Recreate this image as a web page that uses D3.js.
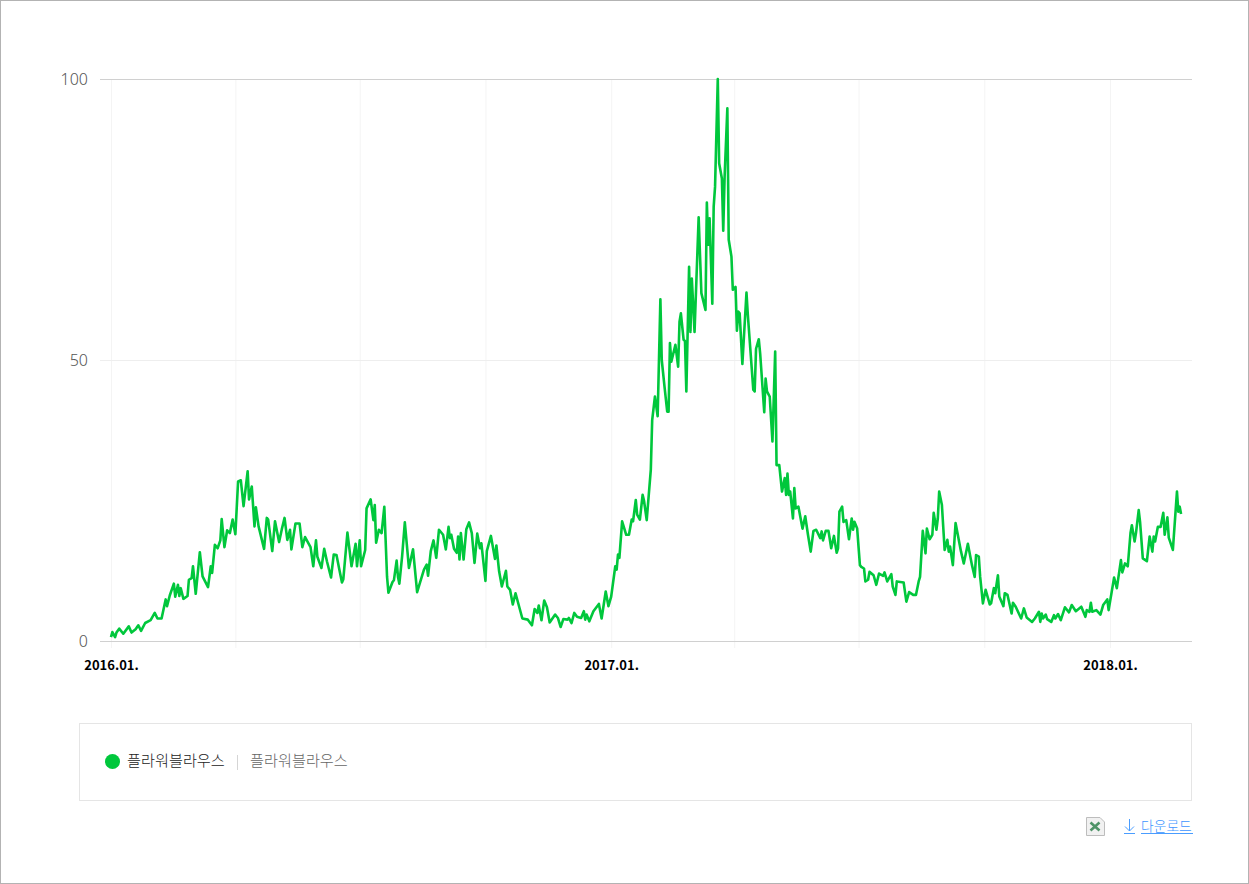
<!DOCTYPE html>
<html lang="ko">
<head>
<meta charset="utf-8">
<title>플라워블라우스</title>
<script src="https://cdn.jsdelivr.net/npm/d3@7/dist/d3.min.js"></script>
<style>
html,body{margin:0;padding:0;background:#fff;overflow:hidden}
svg{display:block}
text{font-family:"Noto Sans CJK KR","Noto Sans",sans-serif}
</style>
</head>
<body>
<svg id="c" width="1249" height="884"></svg>
<script>
const seriesName = "플라워블라우스";
const startDate = "2016-01-01";
const yTicks = [0, 50, 100];
const gridMonths = ["2016-01-01","2016-04-01","2016-07-01","2016-10-01","2017-01-01","2017-04-01","2017-07-01","2017-10-01","2018-01-01"];
const labelMonths = ["2016-01-01","2017-01-01","2018-01-01"];
const downloadLabel = "다운로드";
// day offset from startDate, and search index (ten per line, lines correspond)
const days = [
0,1,3,4,6,9,13,15,18,20,
22,25,29,32,34,37,40,41,43,46,
47,49,50,51,53,56,57,59,60,62,
65,67,71,73,74,76,78,80,81,83,
85,87,89,91,93,95,97,100,101,103,
105,106,108,112,114,115,118,120,123,125,
127,129,131,132,135,138,140,142,146,148,
150,151,154,156,158,161,163,165,167,169,
170,173,176,179,180,182,183,186,187,190,
192,193,194,196,198,200,202,203,206,207,
209,210,211,213,215,218,221,224,229,231,
232,234,236,238,240,243,245,247,248,249,
251,253,254,255,256,258,260,262,264,266,
268,270,271,274,275,278,281,282,284,286,
289,290,292,294,296,301,305,308,310,312,
313,315,317,319,321,325,327,329,331,334,
335,337,339,341,344,346,347,348,350,353,
357,359,362,364,366,369,370,371,372,374,
377,379,381,382,384,385,387,389,390,392,
395,396,398,400,402,403,405,407,408,409,
410,413,415,416,417,419,420,421,423,424,
425,427,430,432,435,436,437,438,440,441,
442,444,445,447,448,449,451,452,454,455,
457,458,459,460,462,465,466,470,471,472,
474,475,478,479,480,482,484,486,487,489,
491,493,494,495,496,497,499,500,501,503,
506,508,510,512,514,516,519,520,521,523,
525,527,529,531,532,533,535,536,538,540,
542,543,544,546,548,549,551,552,554,555,
558,560,562,565,566,568,571,572,574,575,
580,582,584,587,589,591,592,594,596,597,
599,601,602,604,605,606,608,610,612,613,
614,616,618,622,624,627,630,632,633,635,
636,638,640,643,644,646,647,649,650,653,
654,656,659,660,662,666,668,670,674,676,
679,680,681,682,684,685,688,690,691,693,
695,698,701,703,706,710,713,714,716,717,
718,721,724,726,729,730,734,736,739,740,
742,744,746,747,749,750,752,753,755,758,
760,762,763,764,766,768,770,771,773,774,
777,780,781,782,783];
const values = [
0.7,1.6,0.7,1.5,2.2,1.3,2.6,1.5,2.1,2.8,
1.8,3.2,3.7,5,4,4,7.4,6.2,8.1,10.2,
7.9,10,8,9.4,7.5,8,10.9,11.2,13.3,8.4,
15.8,11.5,9.6,13.3,12.1,17.1,16.5,17.9,21.7,16.7,
19.7,19.2,21.6,19,28.4,28.6,24,30.2,25.2,27.5,
20.4,23.8,20.4,16.4,21.9,21.6,16,21.3,17.6,19.9,
21.9,18,19.8,16.3,20.9,20.9,16.7,18.5,16.7,13.3,
17.9,15,13,16.4,14.2,11.3,15.4,15.3,12.8,10.4,
11,19.3,13.3,17.3,13.3,17.9,13.3,16.2,23.6,25.2,
21.5,24.2,17.5,19.8,19.2,23.9,11.4,8.6,10.5,10.8,
14.3,11.4,10.2,15,21.1,13,16.3,8.7,12.7,13.6,
11.6,16,17.9,14.8,19.8,18.9,16.3,20.3,18.3,18.9,
16.4,15.7,18.6,14.5,19.2,14.5,19.9,21.1,19.2,13.9,
19.1,16.5,17.4,10.7,16,18.7,14.6,17,12.4,9.7,
12.5,9.7,9.1,6.5,8.5,4,3.8,2.8,5.7,5,
6.3,3.7,7.2,6,3.3,4.7,4.1,2.5,3.9,3.8,
4.1,3.2,5,4.3,4.1,5.3,3.8,4.7,3.5,5.3,
6.6,4,8.8,6.2,7.9,13.3,12.7,15.4,14.8,21.3,
18.9,18.9,21.6,21.3,25.1,22.5,21.6,26,25,21.5,
30.5,39.3,43.5,40,60.8,50,45.3,40.8,40.8,53,
49.7,52.7,48.8,56.8,58.3,53.6,53.4,44.4,66.6,55,
64.5,55,75.4,61.9,58.9,78,70.5,75.2,60,77.3,
80.8,100,85,82.3,73,82.6,94.8,71.4,68.4,62.5,
63,55.2,58.6,58.3,49.3,62,58,44.7,44.4,52,
53.7,51.2,40.7,46.7,44.4,43.5,35.5,51.5,31.3,31.3,
26.6,29,26,29.8,26,26.6,21.8,27.2,23.6,23.9,
20,22.2,18.9,15.9,19.6,19.8,18.3,19.5,17.9,19.6,
19.6,16.5,18.7,15.7,16.5,23,23.9,21.2,21.5,18.1,
21.8,19.8,21.2,20,13.5,13.2,12.9,10.6,10.9,12.3,
11.7,10,12,11.6,12.2,10.6,11.9,9.7,8.2,10.6,
10.4,7,8.7,8.2,8.2,10.6,11.4,19.6,15.6,20,
18.1,18.9,22.8,19.8,21.8,26.6,24.2,16.2,18,15.9,
16.8,13.5,21,15.9,13.8,17.3,13.5,11.4,15.3,15,
11.4,6.7,9.1,6.5,6.7,9.4,8.5,11.7,7.9,6.2,
8.5,8.2,4.9,6.8,6.1,4,5.8,4.2,3.4,4,
5.2,3.4,4.9,4,4.7,3.9,3.4,4.6,4,4.8,
3.7,6,5.1,6.4,5.3,6.1,4.3,5.5,5.2,6.8,
5.2,5.5,4.7,6.4,7.4,5.5,11.3,9.4,14.4,12.2,
13.8,13.3,19.2,20.6,17.7,19.2,23.3,21.2,14.7,14.2,
18.6,15.9,18.6,17.7,20.3,20.3,22.8,18.9,22,18.4,
16.2,26.6,23,23.9,22.6];

const day = d3.utcDay;
const x = d3.scaleUtc().domain([new Date("2016-01-01"), new Date("2018-01-01")]).range([111, 1110]);
const y = d3.scaleLinear().domain([0, 100]).range([641, 79]);
const start = new Date(startDate);
const points = days.map((d, i) => ({date: day.offset(start, d), value: values[i]}));

const svg = d3.select("#c");
svg.append("rect").attr("x",0.5).attr("y",0.5).attr("width",1248).attr("height",883).attr("fill","#fff").attr("stroke","#b3b3b3");

// vertical grid
svg.append("g").selectAll("line").data(gridMonths).join("line")
  .attr("x1", d => x(new Date(d))+0.5).attr("x2", d => x(new Date(d))+0.5)
  .attr("y1", 79).attr("y2", 648).attr("stroke","#f4f4f4");

// horizontal grid with left-axis labels
const yAxis = d3.axisLeft(y).tickValues(yTicks).tickSize(0).tickPadding(0);
const yG = svg.append("g").attr("transform","translate(88,0)").call(yAxis);
yG.select(".domain").remove();
yG.selectAll("text").attr("font-size",16).attr("font-weight",300).style("font-family",'"Noto Sans",sans-serif').attr("fill","#555").attr("dy","0.33em").attr("text-anchor","end");
svg.append("g").selectAll("line").data(yTicks).join("line")
  .attr("x1",100).attr("x2",1192)
  .attr("y1",d=>y(d)+0.5).attr("y2",d=>y(d)+0.5)
  .attr("stroke",d=>d===50?"#eeeeee":"#d0d0d0");

// bottom axis labels
const xAxis = d3.axisBottom(x).tickValues(labelMonths.map(d=>new Date(d))).tickSize(0).tickPadding(0).tickFormat(d3.utcFormat("%Y.%m."));
const xG = svg.append("g").attr("transform","translate(0,660)").call(xAxis);
xG.select(".domain").remove();
xG.selectAll("text").attr("font-size",13).attr("font-weight",700).attr("fill","#000").attr("y",0).attr("dy","0.8em").attr("text-anchor","middle");

// line
const line = d3.line().x(d=>x(d.date)).y(d=>y(d.value));
svg.append("path").datum(points).attr("d",line).attr("fill","none")
  .attr("stroke","#00c73c").attr("stroke-width",2.6).attr("stroke-linejoin","round");

// legend
svg.append("rect").attr("x",79.5).attr("y",723.5).attr("width",1112).attr("height",77).attr("fill","#fff").attr("stroke","#e5e5e5");
svg.append("circle").attr("cx",112.5).attr("cy",761.5).attr("r",7.5).attr("fill","#00c73c");
svg.append("text").attr("x",127).attr("y",766).attr("font-size",15.2).attr("font-weight",300).attr("fill","#222").text(seriesName);
svg.append("line").attr("x1",237.5).attr("x2",237.5).attr("y1",755).attr("y2",770).attr("stroke","#d5d5d5");
svg.append("text").attr("x",250).attr("y",766).attr("font-size",15.2).attr("font-weight",300).attr("fill","#666").text(seriesName);

// excel icon
const ic = svg.append("g").attr("transform","translate(1086,817)");
ic.append("path").attr("d","M0.5 0.5H14L18.5 5V18.5H0.5Z").attr("fill","#f1f1f1").attr("stroke","#bdbdbd");
ic.append("path").attr("d","M4.5 5.5L13.5 13.5M13.5 5.5L4.5 13.5").attr("stroke","#4f9468").attr("stroke-width",2.6).attr("fill","none");

// download link
const dl = svg.append("g");
dl.append("path").attr("d","M1129.5 819V831M1125 826.5L1129.5 831L1134 826.5M1124 833.5H1135").attr("stroke","#4a9dff").attr("fill","none");
dl.append("text").attr("x",1141).attr("y",830.5).attr("font-size",13.8).attr("font-weight",300).attr("fill","#3d95ff").text(downloadLabel);
dl.append("line").attr("x1",1141).attr("x2",1193).attr("y1",833.5).attr("y2",833.5).attr("stroke","#4a9dff");
</script>
</body>
</html>
